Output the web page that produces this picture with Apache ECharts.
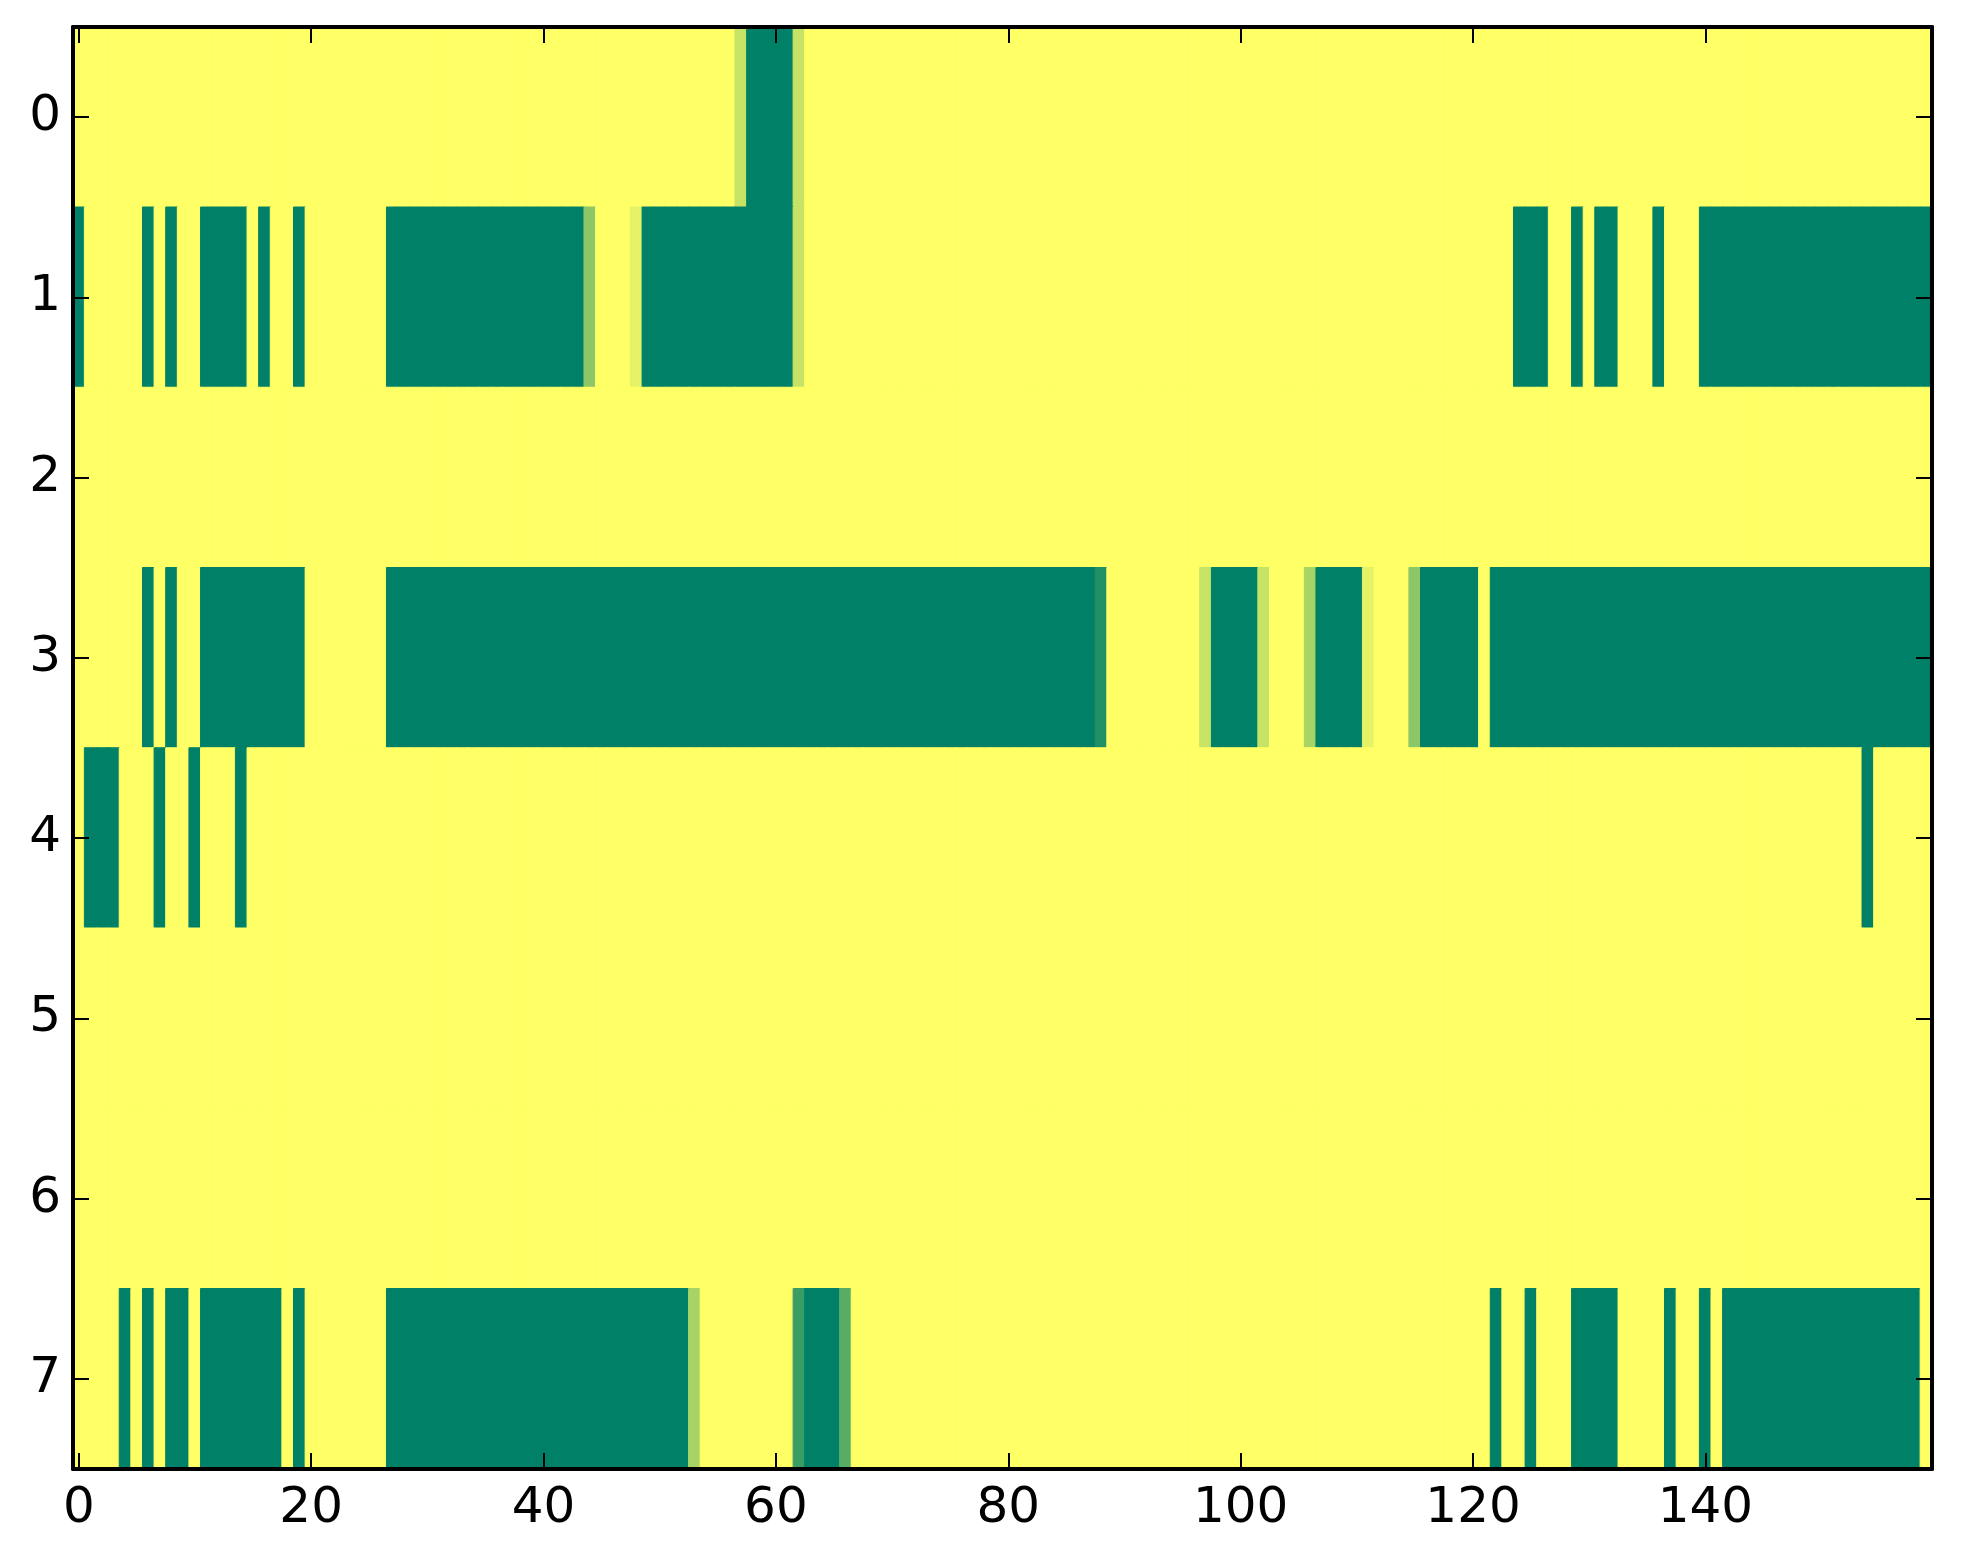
<!DOCTYPE html>
<html>
<head>
<meta charset="utf-8">
<script src="https://cdn.jsdelivr.net/npm/echarts@6/dist/echarts.min.js"></script>
<style>
html,body{margin:0;padding:0;background:#fff;}
#chart{width:1963px;height:1564px;}
</style>
</head>
<body>
<div id="chart"></div>
<script>
// Column indices 0..159, row indices 0..7
var columns = [];
for (var c = 0; c < 160; c++) columns.push(String(c));
var rowLabels = ['0','1','2','3','4','5','6','7'];
var colorRange = ['#ffff66', '#008066'];

var row0 = [
0,0,0,0,0,0,0,0,0,0,
0,0,0,0,0,0,0,0,0,0,
0,0,0,0,0,0,0,0,0,0,
0,0,0,0,0,0,0,0,0,0,
0,0,0,0,0,0,0,0,0,0,
0,0,0,0,0,0,0,0.22,1,1,
1,1,0.22,0,0,0,0,0,0,0,
0,0,0,0,0,0,0,0,0,0,
0,0,0,0,0,0,0,0,0,0,
0,0,0,0,0,0,0,0,0,0,
0,0,0,0,0,0,0,0,0,0,
0,0,0,0,0,0,0,0,0,0,
0,0,0,0,0,0,0,0,0,0,
0,0,0,0,0,0,0,0,0,0,
0,0,0,0,0,0,0,0,0,0,
0,0,0,0,0,0,0,0,0,0
];
var row1 = [
1,0,0,0,0,0,1,0,1,0,
0,1,1,1,1,0,1,0,0,1,
0,0,0,0,0,0,0,1,1,1,
1,1,1,1,1,1,1,1,1,1,
1,1,1,1,0.45,0,0,0,0.1,1,
1,1,1,1,1,1,1,1,1,1,
1,1,0.22,0,0,0,0,0,0,0,
0,0,0,0,0,0,0,0,0,0,
0,0,0,0,0,0,0,0,0,0,
0,0,0,0,0,0,0,0,0,0,
0,0,0,0,0,0,0,0,0,0,
0,0,0,0,0,0,0,0,0,0,
0,0,0,0,1,1,1,0,0,1,
0,1,1,0,0,0,1,0,0,0,
1,1,1,1,1,1,1,1,1,1,
1,1,1,1,1,1,1,1,1,1
];
var row2 = [
0,0,0,0,0,0,0,0,0,0,
0,0,0,0,0,0,0,0,0,0,
0,0,0,0,0,0,0,0,0,0,
0,0,0,0,0,0,0,0,0,0,
0,0,0,0,0,0,0,0,0,0,
0,0,0,0,0,0,0,0,0,0,
0,0,0,0,0,0,0,0,0,0,
0,0,0,0,0,0,0,0,0,0,
0,0,0,0,0,0,0,0,0,0,
0,0,0,0,0,0,0,0,0,0,
0,0,0,0,0,0,0,0,0,0,
0,0,0,0,0,0,0,0,0,0,
0,0,0,0,0,0,0,0,0,0,
0,0,0,0,0,0,0,0,0,0,
0,0,0,0,0,0,0,0,0,0,
0,0,0,0,0,0,0,0,0,0
];
var row3 = [
0,0,0,0,0,0,1,0,1,0,
0,1,1,1,1,1,1,1,1,1,
0,0,0,0,0,0,0,1,1,1,
1,1,1,1,1,1,1,1,1,1,
1,1,1,1,1,1,1,1,1,1,
1,1,1,1,1,1,1,1,1,1,
1,1,1,1,1,1,1,1,1,1,
1,1,1,1,1,1,1,1,1,1,
1,1,1,1,1,1,1,1,0.88,0,
0,0,0,0,0,0,0,0.22,1,1,
1,1,0.22,0,0,0,0.34,1,1,1,
1,0.1,0,0,0,0.45,1,1,1,1,
1,0,1,1,1,1,1,1,1,1,
1,1,1,1,1,1,1,1,1,1,
1,1,1,1,1,1,1,1,1,1,
1,1,1,1,1,1,1,1,1,1
];
var row4 = [
0,1,1,1,0,0,0,1,0,0,
1,0,0,0,1,0,0,0,0,0,
0,0,0,0,0,0,0,0,0,0,
0,0,0,0,0,0,0,0,0,0,
0,0,0,0,0,0,0,0,0,0,
0,0,0,0,0,0,0,0,0,0,
0,0,0,0,0,0,0,0,0,0,
0,0,0,0,0,0,0,0,0,0,
0,0,0,0,0,0,0,0,0,0,
0,0,0,0,0,0,0,0,0,0,
0,0,0,0,0,0,0,0,0,0,
0,0,0,0,0,0,0,0,0,0,
0,0,0,0,0,0,0,0,0,0,
0,0,0,0,0,0,0,0,0,0,
0,0,0,0,0,0,0,0,0,0,
0,0,0,0,1,0,0,0,0,0
];
var row5 = [
0,0,0,0,0,0,0,0,0,0,
0,0,0,0,0,0,0,0,0,0,
0,0,0,0,0,0,0,0,0,0,
0,0,0,0,0,0,0,0,0,0,
0,0,0,0,0,0,0,0,0,0,
0,0,0,0,0,0,0,0,0,0,
0,0,0,0,0,0,0,0,0,0,
0,0,0,0,0,0,0,0,0,0,
0,0,0,0,0,0,0,0,0,0,
0,0,0,0,0,0,0,0,0,0,
0,0,0,0,0,0,0,0,0,0,
0,0,0,0,0,0,0,0,0,0,
0,0,0,0,0,0,0,0,0,0,
0,0,0,0,0,0,0,0,0,0,
0,0,0,0,0,0,0,0,0,0,
0,0,0,0,0,0,0,0,0,0
];
var row6 = [
0,0,0,0,0,0,0,0,0,0,
0,0,0,0,0,0,0,0,0,0,
0,0,0,0,0,0,0,0,0,0,
0,0,0,0,0,0,0,0,0,0,
0,0,0,0,0,0,0,0,0,0,
0,0,0,0,0,0,0,0,0,0,
0,0,0,0,0,0,0,0,0,0,
0,0,0,0,0,0,0,0,0,0,
0,0,0,0,0,0,0,0,0,0,
0,0,0,0,0,0,0,0,0,0,
0,0,0,0,0,0,0,0,0,0,
0,0,0,0,0,0,0,0,0,0,
0,0,0,0,0,0,0,0,0,0,
0,0,0,0,0,0,0,0,0,0,
0,0,0,0,0,0,0,0,0,0,
0,0,0,0,0,0,0,0,0,0
];
var row7 = [
0,0,0,0,1,0,1,0,1,1,
0,1,1,1,1,1,1,1,0,1,
0,0,0,0,0,0,0,1,1,1,
1,1,1,1,1,1,1,1,1,1,
1,1,1,1,1,1,1,1,1,1,
1,1,1,0.34,0,0,0,0,0,0,
0,0,0.77,1,1,1,0.65,0,0,0,
0,0,0,0,0,0,0,0,0,0,
0,0,0,0,0,0,0,0,0,0,
0,0,0,0,0,0,0,0,0,0,
0,0,0,0,0,0,0,0,0,0,
0,0,0,0,0,0,0,0,0,0,
0,0,1,0,0,1,0,0,0,1,
1,1,1,0,0,0,0,1,0,0,
1,0,1,1,1,1,1,1,1,1,
1,1,1,1,1,1,1,1,1,0
];
var rows = [row0,row1,row2,row3,row4,row5,row6,row7];

var data = [];
rows.forEach(function (r, y) {
  r.forEach(function (v, x) {
    // border in the same colour as the fill hides anti-aliasing seams between cells
    data.push({ value: [x, y, v], itemStyle: { borderColor: echarts.color.lerp(v, colorRange) } });
  });
});

var FONT = 'DejaVu Sans';
function axisCommon(extra) {
  var a = {
    type: 'category',
    z: 10,
    axisLine: { show: true, onZero: false, lineStyle: { color: '#000', width: 4 } },
    axisTick: { show: true, inside: true, alignWithLabel: true, length: 16, lineStyle: { color: '#000', width: 2 } },
    splitLine: { show: false },
    axisLabel: { color: '#000', fontFamily: FONT, fontSize: 50 }
  };
  for (var k in extra) {
    if (typeof extra[k] === 'object' && a[k] && !Array.isArray(extra[k])) {
      for (var j in extra[k]) a[k][j] = extra[k][j];
    } else a[k] = extra[k];
  }
  return a;
}

var chart = echarts.init(document.getElementById('chart'), null, { renderer: 'canvas' });
chart.setOption({
  animation: false,
  backgroundColor: '#ffffff',
  grid: { left: 73, right: 31, top: 27, bottom: 95, containLabel: false },
  xAxis: [
    axisCommon({ data: columns, position: 'bottom', boundaryGap: true,
      axisTick: { interval: 19 }, axisLabel: { interval: 19, margin: 15 } }),
    axisCommon({ data: columns, position: 'top', boundaryGap: true,
      axisTick: { interval: 19 }, axisLabel: { show: false } })
  ],
  yAxis: [
    axisCommon({ data: rowLabels, inverse: true, position: 'left', boundaryGap: true,
      axisLabel: { margin: 12 } }),
    axisCommon({ data: rowLabels, inverse: true, position: 'right', boundaryGap: true,
      axisLabel: { show: false } })
  ],
  visualMap: {
    show: false,
    type: 'continuous',
    min: 0,
    max: 1,
    dimension: 2,
    seriesIndex: 0,
    inRange: { color: colorRange }
  },
  series: [{
    type: 'heatmap',
    xAxisIndex: 0,
    yAxisIndex: 0,
    data: data,
    progressive: 0,
    itemStyle: { borderWidth: 1 },
    emphasis: { disabled: true }
  }]
});
</script>
</body>
</html>
